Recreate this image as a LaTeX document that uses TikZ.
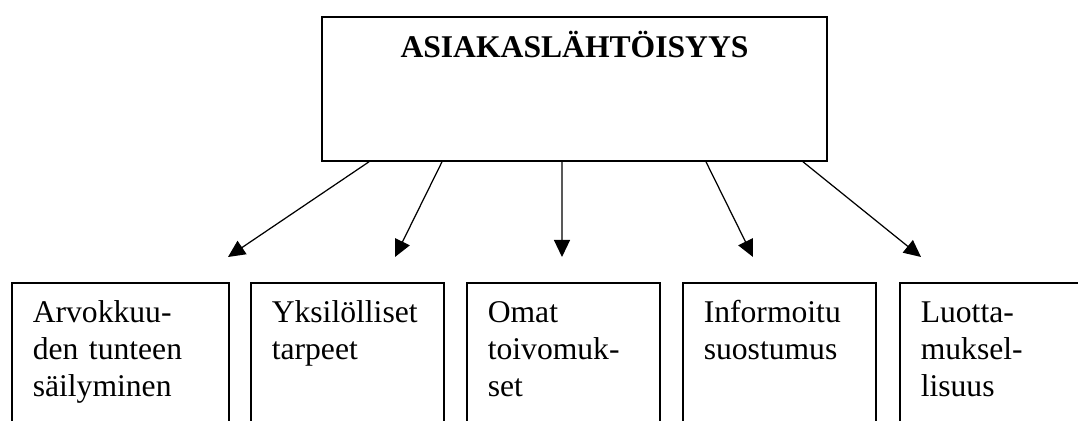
\documentclass[tikz,border=0pt]{standalone}
\usepackage{fontspec}
\setmainfont{Liberation Serif}
\usetikzlibrary{arrows.meta, positioning}

\begin{document}
\begin{tikzpicture}[
    x=0.02cm, y=-0.02cm,
    >={Triangle[length=0.34cm, width=0.32cm]},
    every node/.style={font=\fontsize{18}{21}\selectfont},
    topbox/.style={draw, line width=0.9pt, minimum width=10.1cm, minimum height=2.88cm, inner sep=0pt},
    cell/.style={draw, line width=0.9pt, anchor=north west, align=left, inner xsep=0.42cm, inner ysep=0pt, text height=0.8cm, text depth=5cm},
    link/.style={->, line width=0.7pt}
]
\clip (0,0) rectangle (1078,421);

\node[topbox] (root) at (574.5,89) {};
\node[anchor=base, font=\fontsize{18}{21}\selectfont\bfseries] (title) at ([yshift=-0.82cm]root.north) {ASIAKASLÄHTÖISYYS};

\node[cell, text width=3.5cm] (c1) at (11,282) {Arvokkuu-\\den tunteen\\säilyminen};
\node[cell, text width=3.02cm] (c2) at (250,282) {Yksilölliset\\tarpeet};
\node[cell, text width=3.02cm] (c3) at (466,282) {Omat\\toivomuk-\\set};
\node[cell, text width=3.02cm] (c4) at (682,282) {Informoitu\\suostumus};
\node[cell, text width=3.02cm] (c5) at (899,282) {Luotta-\\muksel-\\lisuus};

\coordinate (e1) at (228,257);
\coordinate (e2) at (395,257);
\coordinate (e3) at (562,257);
\coordinate (e4) at (753,257);
\coordinate (e5) at (921,257);

\draw[link] ([xshift=-4.11cm]root.south) -- (e1);
\draw[link] ([xshift=-2.65cm]root.south) -- (e2);
\draw[link] ([xshift=-0.25cm]root.south) -- (e3);
\draw[link] ([xshift=2.63cm]root.south) -- (e4);
\draw[link] ([xshift=4.57cm]root.south) -- (e5);
\end{tikzpicture}
\end{document}
